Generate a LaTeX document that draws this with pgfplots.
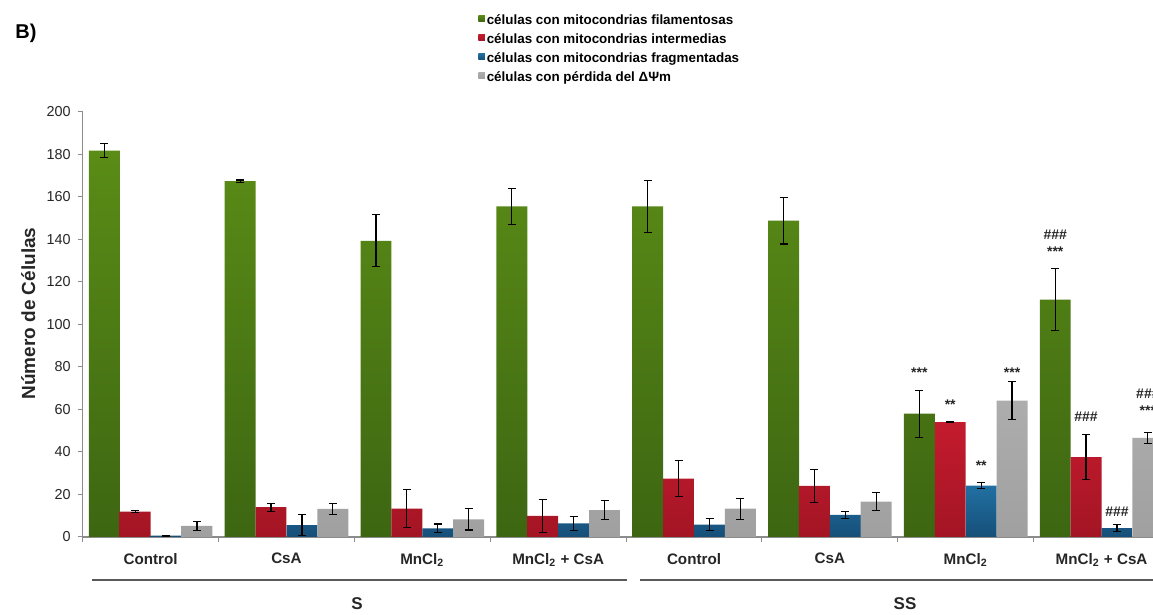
\documentclass[border=0pt]{standalone}
\usepackage{fontspec}
\setmainfont{Liberation Sans}
\usepackage{pgfplots}
\pgfplotsset{compat=1.18}
\usepackage{pgfplotstable}

\definecolor{gTop}{HTML}{5A8C16}
\definecolor{gBot}{HTML}{3D6612}
\definecolor{rTop}{HTML}{C41B2E}
\definecolor{rBot}{HTML}{A31524}
\definecolor{bTop}{HTML}{2170A3}
\definecolor{bBot}{HTML}{164F78}
\definecolor{aTop}{HTML}{ADADAD}
\definecolor{aBot}{HTML}{A0A0A0}
\definecolor{axisgray}{HTML}{8C8C8C}
\definecolor{groupline}{HTML}{595959}

% mean and SEM per treatment: g = filamentosas, r = intermedias,
% b = fragmentadas, a = perdida del potencial
\pgfplotstableread{
x g     ge   r    re   b    be   a    ae
0 181.8 3.3  11.9 0.4  0.6  0.2  5.2  2.1
1 167.5 0.5  14.0 1.9  5.6  5.0  13.2 2.5
2 139.4 12.2 13.3 9.0  4.1  2.0  8.3  5.0
3 155.6 8.4  9.9  7.6  6.4  3.4  12.7 4.5
4 155.6 12.3 27.5 8.4  5.8  2.8  13.3 5.0
5 148.9 11.0 24.0 7.9  10.4 1.6  16.6 4.3
6 58.0  11.0 54.1 0.3  24.2 1.5  64.2 9.0
7 111.7 14.7 37.6 10.6 4.2  1.7  46.6 2.5
}\celldata

\pgfplotsset{
  errstyle/.style={
    error bars/.cd, y dir=both, y explicit,
    error bar style={black, line width=0.6pt},
    error mark options={rotate=90, mark size=2pt, black, line width=0.6pt}
  }
}

\begin{document}
\begin{tikzpicture}
\useasboundingbox (0,0) rectangle (576.5pt,307.5pt);
\clip (0,0) rectangle (576.5pt,307.5pt);
\begin{axis}[
  at={(41.35pt,39pt)}, anchor=south west,
  scale only axis, width=543.4pt, height=212.5pt,
  ybar, bar width=0.2275,
  xmin=-0.5, xmax=7.5, ymin=0, ymax=200,
  ytick={0,20,...,200},
  xtick={0,...,7},
  xticklabels={Control, CsA, MnCl\textsubscript{2}, MnCl\textsubscript{2} + CsA,
               Control, CsA, MnCl\textsubscript{2}, MnCl\textsubscript{2} + CsA},
  minor xtick={-0.5,0.5,...,7.5},
  axis x line*=bottom, axis y line*=left,
  axis line style={axisgray, line width=0.6pt},
  tick style={axisgray, line width=0.5pt},
  major x tick style={draw=none},
  tick align=outside,
  major tick length=2.5pt, minor tick length=2.5pt,
  /pgf/number format/assume math mode=true,
  yticklabel style={font=\fontsize{7.2}{9}\selectfont, text=black!85},
  xticklabel style={font=\fontsize{7.6}{9}\selectfont\bfseries, text=black!85, yshift=-2pt},
  clip=false,
  legend style={at={(axis description cs:0.3637,1.236)}, anchor=north west,
    draw=none, fill=none, inner sep=0pt,
    font=\fontsize{6.7}{8}\selectfont\bfseries, row sep=1pt,
    nodes={inner sep=1pt, text height=5pt, text depth=1.5pt}},
  legend cell align=left,
  legend image code/.code={\path[#1, draw=none] (0pt,-0.6pt) rectangle (3.2pt,2.6pt);},
]
\addplot[draw=none, top color=gTop, bottom color=gBot, bar shift=-0.341, errstyle]
  table[x=x, y=g, y error=ge] {\celldata};
\addplot[draw=none, top color=rTop, bottom color=rBot, bar shift=-0.114, errstyle]
  table[x=x, y=r, y error=re] {\celldata};
\addplot[draw=none, top color=bTop, bottom color=bBot, bar shift=0.114, errstyle]
  table[x=x, y=b, y error=be] {\celldata};
\addplot[draw=none, top color=aTop, bottom color=aBot, bar shift=0.341, errstyle]
  table[x=x, y=a, y error=ae] {\celldata};
\addlegendentry{células con mitocondrias filamentosas}
\addlegendentry{células con mitocondrias intermedias}
\addlegendentry{células con mitocondrias fragmentadas}
\addlegendentry{células con pérdida del ΔΨm}

% significance marks
\begin{scope}[every node/.style={font=\fontsize{7}{8}\selectfont\bfseries, text=black!85}]
\node at (axis cs:5.659,77.3) {***};
\node at (axis cs:5.886,62.1) {**};
\node at (axis cs:6.114,33.6) {**};
\node at (axis cs:6.341,77.3) {***};
\node at (axis cs:6.659,142.4) {\#\#\#};
\node at (axis cs:6.659,134.3) {***};
\node at (axis cs:6.886,56.5) {\#\#\#};
\node at (axis cs:7.114,11.8) {\#\#\#};
\node at (axis cs:7.341,67.6) {\#\#\#};
\node at (axis cs:7.341,59.4) {***};
\end{scope}
\end{axis}

\node[rotate=90, anchor=base, font=\fontsize{9.5}{11}\selectfont\bfseries, text=black!85]
  at (17.5pt,150.75pt) {Número de Células};
\node[font=\fontsize{10}{12}\selectfont\bfseries] at (13pt,291pt) {B)};

% treatment groups below the categories
\draw[groupline, line width=1pt] (46pt,17.5pt) -- (313.5pt,17.5pt);
\draw[groupline, line width=1pt] (320pt,17.5pt) -- (580pt,17.5pt);
\node[font=\fontsize{8.5}{10}\selectfont\bfseries, text=black!85] at (178.5pt,5.5pt) {S};
\node[font=\fontsize{8.5}{10}\selectfont\bfseries, text=black!85] at (452.5pt,5.5pt) {SS};
\end{tikzpicture}
\end{document}
